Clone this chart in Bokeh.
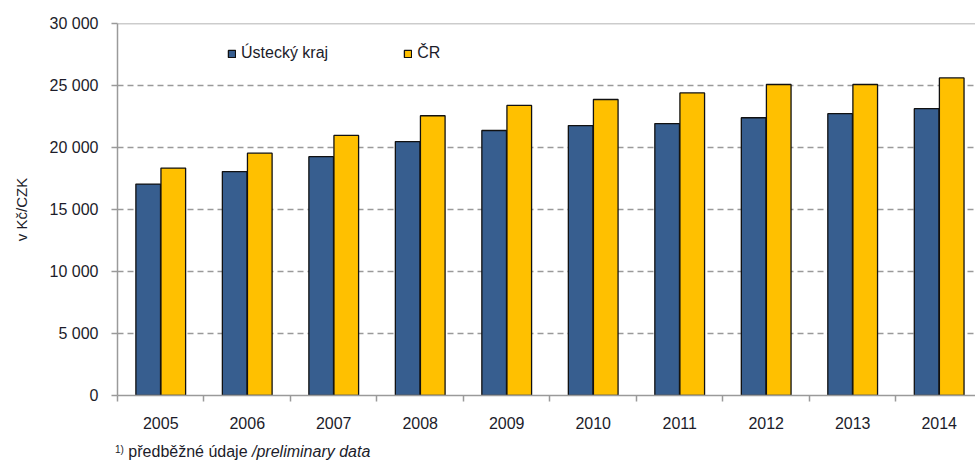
from bokeh.plotting import figure
from bokeh.layouts import column
from bokeh.models import (ColumnDataSource, FixedTicker, CustomJSTickFormatter,
                          Range1d, Span, Div)
from bokeh.embed import file_html
from bokeh.resources import INLINE

years = ["2005", "2006", "2007", "2008", "2009", "2010", "2011", "2012", "2013", "2014"]
ustecky = [17050, 18060, 19260, 20480, 21370, 21770, 21930, 22400, 22730, 23130]
cr = [18340, 19540, 20970, 22560, 23390, 23870, 24400, 25080, 25080, 25610]
y_ticks = [0, 5000, 10000, 15000, 20000, 25000, 30000]
y_tick_labels = ["0", "5 000", "10 000", "15 000", "20 000", "25 000", "30 000"]
footnote_mark = "1)"
footnote_cz = "předběžné údaje"
footnote_en = "/preliminary data"

FONT = "Liberation Sans"
TXT = "#1c1c2a"
AX = "#9a9a9a"

idx = list(range(len(years)))
centers = [i + 0.5 for i in idx]
bw = 0.285
off = 0.145
src = ColumnDataSource(dict(
    xb=[c - off for c in centers], xy=[c + off for c in centers],
    ustecky=ustecky, cr=cr))

p = figure(width=975, height=441, output_backend="svg", toolbar_location=None,
           x_range=Range1d(0, 9.92), y_range=Range1d(0, 30000),
           min_border_left=117, min_border_right=0, min_border_top=23,
           min_border_bottom=46)
p.outline_line_color = None
p.background_fill_color = "white"

p.vbar(x="xb", top="ustecky", width=bw, source=src, fill_color="#375E8F",
       line_color="#111111", line_width=1.3, legend_label="Ústecký kraj")
p.vbar(x="xy", top="cr", width=bw, source=src, fill_color="#FFC000",
       line_color="#111111", line_width=1.3, legend_label="ČR")

# y axis
p.yaxis.ticker = FixedTicker(ticks=y_ticks)
p.yaxis.formatter = CustomJSTickFormatter(args=dict(labels=y_tick_labels),
                                          code="return labels[Math.round(tick/5000)];")
p.yaxis.axis_label = "v Kč/CZK"
p.yaxis.axis_label_text_font = FONT
p.yaxis.axis_label_text_font_style = "normal"
p.yaxis.axis_label_text_font_size = "15px"
p.yaxis.axis_label_text_color = TXT
p.yaxis.axis_label_standoff = 17
p.yaxis.major_label_text_font = FONT
p.yaxis.major_label_text_font_size = "16px"
p.yaxis.major_label_text_color = TXT
p.yaxis.major_label_standoff = 13
p.yaxis.axis_line_color = AX
p.yaxis.axis_line_width = 1.5
p.yaxis.major_tick_line_color = AX
p.yaxis.major_tick_line_width = 1.5
p.yaxis.major_tick_out = 6
p.yaxis.major_tick_in = 0
p.yaxis.minor_tick_line_color = None

# x axis
p.xaxis.ticker = FixedTicker(ticks=centers, minor_ticks=idx)
p.xaxis.formatter = CustomJSTickFormatter(args=dict(labels=years),
                                          code="return labels[Math.floor(tick)];")
p.xaxis.major_label_text_font = FONT
p.xaxis.major_label_text_font_size = "16px"
p.xaxis.major_label_text_color = TXT
p.xaxis.major_label_standoff = 15
p.xaxis.axis_line_color = AX
p.xaxis.axis_line_width = 1.5
p.xaxis.major_tick_line_color = None
p.xaxis.major_tick_out = 0
p.xaxis.major_tick_in = 0
p.xaxis.minor_tick_line_color = AX
p.xaxis.minor_tick_line_width = 1.5
p.xaxis.minor_tick_out = 6
p.xaxis.minor_tick_in = 0

# grid
p.xgrid.grid_line_color = None
p.ygrid.ticker = FixedTicker(ticks=y_ticks)
p.ygrid.grid_line_color = AX
p.ygrid.grid_line_width = 1.5
p.ygrid.grid_line_dash = "6 4"
p.add_layout(Span(location=30000, dimension="width", line_color=AX, line_width=1.5))

# legend
lg = p.legend[0]
lg.orientation = "horizontal"
lg.location = (110, 333)
lg.border_line_color = None
lg.background_fill_alpha = 0
lg.padding = 0
lg.margin = 0
lg.spacing = 75
lg.glyph_width = 9
lg.glyph_height = 9
lg.label_standoff = 5
lg.label_text_font = FONT
lg.label_text_font_size = "16px"
lg.label_text_color = TXT

# footnote
note = Div(
    text=(f'<div style="font-family:\'{FONT}\';font-size:16px;color:{TXT};'
          f'padding-left:115px;line-height:18px;white-space:nowrap;margin:0">'
          f'<span style="font-size:10px;vertical-align:4px">{footnote_mark}</span> '
          f'{footnote_cz} <i>{footnote_en}</i></div>'),
    width=975, height=19, margin=(0, 0, 0, 0))

layout = column(p, note, spacing=0, margin=(0, 0, 0, 0))

open("out.html", "w").write(file_html(layout, INLINE))
